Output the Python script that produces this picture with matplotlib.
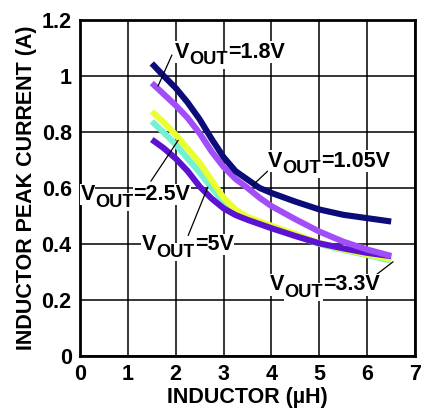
import numpy as np
import matplotlib
matplotlib.use("Agg")
import matplotlib.pyplot as plt

plt.rcParams['font.family'] = ['Liberation Sans', 'DejaVu Sans']
plt.rcParams['font.weight'] = 'bold'

# inductor values (uH)
L = [1.5, 1.75, 2, 2.25, 2.5, 2.75, 3, 3.25, 3.5, 3.75, 4, 4.5, 5, 5.5, 6, 6.5]

# peak current (A) per output voltage
i_105 = [1.045, 1.0, 0.957, 0.905, 0.845, 0.775, 0.71, 0.66, 0.63, 0.60, 0.582,
         0.551, 0.523, 0.504, 0.492, 0.48]
i_18 = [0.975, 0.935, 0.895, 0.85, 0.795, 0.73, 0.675, 0.632, 0.60, 0.565, 0.535,
        0.488, 0.444, 0.408, 0.38, 0.357]
i_25 = [0.873, 0.835, 0.79, 0.74, 0.69, 0.627, 0.565, 0.522, 0.497, 0.48, 0.465,
        0.435, 0.403, 0.38, 0.362, 0.345]
i_33 = [0.838, 0.798, 0.755, 0.705, 0.655, 0.60, 0.551, 0.515, 0.492, 0.474, 0.459,
        0.43, 0.40, 0.378, 0.36, 0.34]
i_5 = [0.773, 0.742, 0.705, 0.66, 0.605, 0.562, 0.527, 0.503, 0.486, 0.471, 0.456,
       0.428, 0.402, 0.384, 0.368, 0.356]

x_ticks = [0, 1, 2, 3, 4, 5, 6, 7]
y_ticks = [0, 0.2, 0.4, 0.6, 0.8, 1.0, 1.2]
y_labels = ['0', '0.2', '0.4', '0.6', '0.8', '1', '1.2']

fig = plt.figure(figsize=(4.21, 4.09), dpi=100)
ax = fig.add_axes([0.19, 0.130, 0.796, 0.821])

lw = 4.4
ax.plot(L, i_33, color='#72F2D2', lw=lw, solid_capstyle='butt', zorder=3)
ax.plot(L, i_25, color='#EAFF30', lw=lw, solid_capstyle='butt', zorder=4)
ax.plot(L, i_5, color='#5C12D2', lw=lw, solid_capstyle='butt', zorder=5)
ax.plot(L, i_18, color='#A24EF8', lw=lw, solid_capstyle='butt', zorder=6)
ax.plot(L, i_105, color='#0C0C78', lw=lw, solid_capstyle='butt', zorder=7)

ax.set_xlim(0, 7)
ax.set_ylim(0, 1.2)
ax.set_xticks(x_ticks)
ax.set_yticks(y_ticks)
ax.set_yticklabels(y_labels)
ax.tick_params(length=0, labelsize=15.5, pad=6)
ax.grid(True, color='black', lw=1.1)
ax.set_axisbelow(True)
for s in ax.spines.values():
    s.set_linewidth(2)

ax.set_xlabel('INDUCTOR (µH)', fontsize=15.5, fontweight='bold', labelpad=1)
ax.set_ylabel('INDUCTOR PEAK CURRENT (A)', fontsize=15.5, fontweight='bold', labelpad=3)

fs = 15.5
box = dict(facecolor='white', edgecolor='none', pad=0.3)


def vout(x, y, val, tip, tail):
    # V with a large "OUT" subscript, then "=value"
    t1 = ax.text(x, y, 'V', fontsize=fs, va='baseline', ha='left', bbox=box, zorder=10)
    t2 = ax.annotate('OUT', xy=(1, 0), xycoords=t1, xytext=(0, -4),
                     textcoords='offset points', fontsize=fs * 0.85,
                     va='bottom', ha='left', bbox=box, zorder=10)
    ax.annotate('=' + val, xy=(1, 0), xycoords=(t2, t1), fontsize=fs,
                va='bottom', ha='left', bbox=box, zorder=10)
    ax.annotate('', xy=tip, xytext=tail,
                arrowprops=dict(arrowstyle='-', color='black', lw=0.9,
                                shrinkA=0, shrinkB=0), zorder=9)


vout(1.99, 1.065, '1.8V', (1.63, 0.964), (1.92, 1.075))
vout(3.93, 0.676, '1.05V', (3.61, 0.61), (3.92, 0.66))
vout(0.01, 0.557, '2.5V', (2.05, 0.77), (1.48, 0.624))
vout(1.29, 0.378, '5V', (2.67, 0.603), (2.26, 0.43))
vout(3.97, 0.235, '3.3V', (6.54, 0.336), (6.12, 0.281))

fig.savefig('out.png', dpi=100)
